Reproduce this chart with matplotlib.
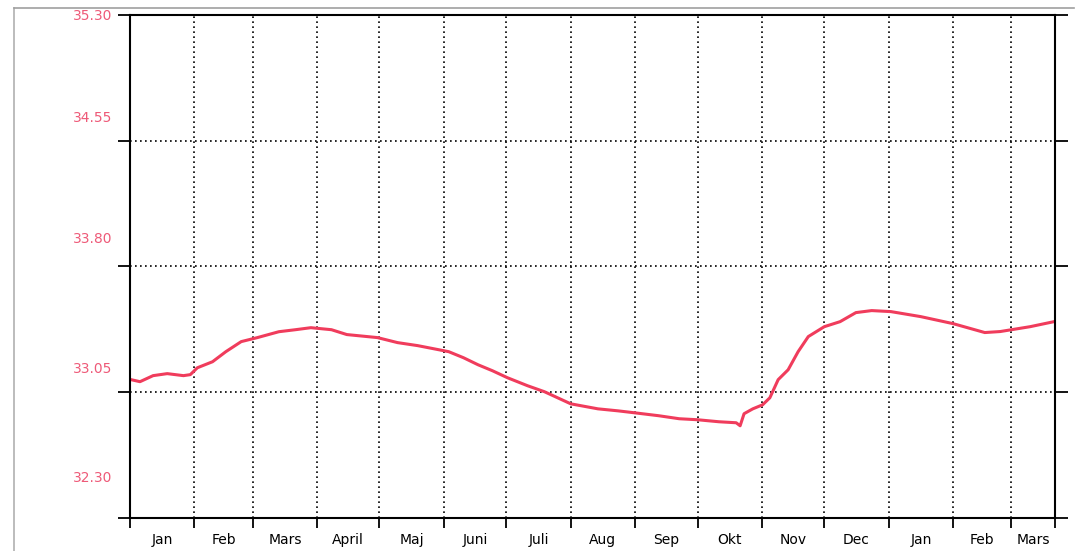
import matplotlib.pyplot as plt
from matplotlib.transforms import ScaledTranslation

# days since 1 Jan of the first year
days = [0.5, 4.8, 11.1, 17.9, 25.7, 29, 32.4, 39.7, 46.1, 53.5, 61.3, 71.6, 79.6,
        87, 96.9, 104.3, 119, 128.7, 138.4, 153.3, 160.4, 167.4, 174.4, 181.5,
        191.2, 199.4, 205.7, 212, 225.1, 234.8, 243, 254.3, 264.2, 273, 283.3,
        291.6, 293.5, 295.4, 299.6, 304.3, 307.8, 311.8, 316.6, 321.4, 326.3,
        334, 341.6, 349.2, 356.8, 366, 380.4, 396, 411.2, 418.6, 433, 444.5]
values = [33.125, 33.113, 33.149, 33.161, 33.149, 33.155, 33.196, 33.232, 33.292,
          33.352, 33.376, 33.411, 33.423, 33.435, 33.423, 33.394, 33.376, 33.346,
          33.328, 33.292, 33.256, 33.214, 33.178, 33.137, 33.089, 33.053, 33.017,
          32.981, 32.951, 32.939, 32.927, 32.910, 32.892, 32.886, 32.874, 32.868,
          32.850, 32.922, 32.951, 32.975, 33.017, 33.125, 33.184, 33.292, 33.382,
          33.441, 33.471, 33.525, 33.537, 33.531, 33.501, 33.459, 33.406, 33.412,
          33.441, 33.471]

month_starts = [0, 31, 59, 90, 120, 151, 181, 212, 243, 273, 304, 334, 365, 396, 424, 445]
month_names = ["Jan", "Feb", "Mars", "April", "Maj", "Juni", "Juli", "Aug", "Sep",
               "Okt", "Nov", "Dec", "Jan", "Feb", "Mars"]
yticks = [32.30, 33.05, 33.80, 34.55, 35.30]
ylabels = ["32.30", "33.05", "33.80", "34.55", "35.30"]

pink = "#ee5a78"

fig = plt.figure(figsize=(10.79, 5.51), dpi=100)
ax = fig.add_axes([0.1205, 0.0599, 0.8573, 0.9129])

ax.plot(days, values, color="#f03c5c", lw=2.2)

ax.set_xlim(0, 445)
ax.set_ylim(32.30, 35.30)

ax.set_xticks(month_starts)
ax.set_xticklabels([])
mids = [(a + b) / 2 for a, b in zip(month_starts[:-1], month_starts[1:])]
ax.set_xticks(mids, minor=True)
ax.set_xticklabels(month_names, minor=True, fontsize=10, color="black", fontweight="medium")
ax.tick_params(axis="x", which="major", length=7, width=1.3, direction="out")
ax.tick_params(axis="x", which="minor", length=0, pad=11)

ax.set_yticks(yticks)
ax.set_yticklabels(ylabels, fontsize=10, color=pink)
ax.tick_params(axis="y", which="major", length=9, width=1.3, direction="out",
               right=True, pad=4)

# the plotter printed the labels above their ticks
offsets_px = [41, 25, 29, 24, 0]
for lab, off in zip(ax.get_yticklabels(), offsets_px):
    lab.set_transform(lab.get_transform() + ScaledTranslation(0, off / 100, fig.dpi_scale_trans))

ax.grid(True, which="major", color="black", linestyle=(0, (1, 2)), lw=1.2)

for s in ax.spines.values():
    s.set_linewidth(1.5)
    s.set_color("black")

# faint scan edges
fig.add_artist(plt.Line2D([0.013, 0.013], [0.0, 0.985], transform=fig.transFigure,
                          color="#b0b0b0", lw=1.2))
fig.add_artist(plt.Line2D([0.013, 0.995], [0.985, 0.985], transform=fig.transFigure,
                          color="#a0a0a0", lw=1.2))

fig.savefig("out.png", dpi=100)
